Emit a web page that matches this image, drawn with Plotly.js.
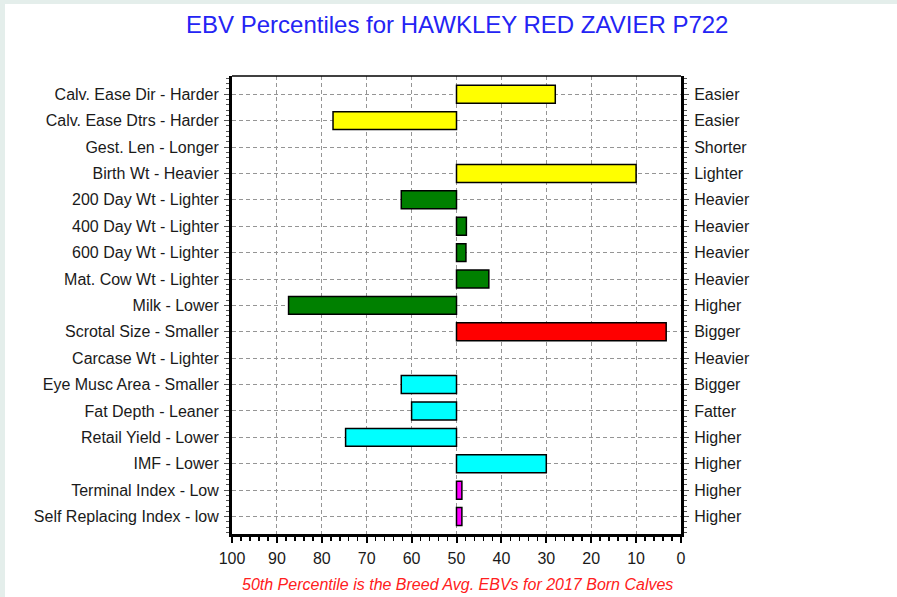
<!DOCTYPE html>
<html>
<head>
<meta charset="utf-8">
<script src="https://cdn.plot.ly/plotly-3.0.1.min.js"></script>
<style>
  html, body { margin: 0; padding: 0; background: #e4eeeb; width: 897px; height: 597px; overflow: hidden; }
  #chart { position: absolute; left: 5px; top: 4px; width: 892px; height: 593px; background: #ffffff; }
</style>
</head>
<body>
<div id="chart"></div>
<script>
// Trait labels (left = low end, right = high end)
var leftLabels = [
  "Calv. Ease Dir - Harder", "Calv. Ease Dtrs - Harder", "Gest. Len - Longer",
  "Birth Wt - Heavier", "200 Day Wt - Lighter", "400 Day Wt - Lighter",
  "600 Day Wt - Lighter", "Mat. Cow Wt - Lighter", "Milk - Lower",
  "Scrotal Size - Smaller", "Carcase Wt - Lighter", "Eye Musc Area - Smaller",
  "Fat Depth - Leaner", "Retail Yield - Lower", "IMF - Lower",
  "Terminal Index - Low", "Self Replacing Index - low"
];
var rightLabels = [
  "Easier", "Easier", "Shorter", "Lighter", "Heavier", "Heavier", "Heavier",
  "Heavier", "Higher", "Bigger", "Heavier", "Bigger", "Fatter", "Higher",
  "Higher", "Higher", "Higher"
];
// Percentile reached by each trait (null = no bar drawn)
var percentiles = [28, 77.5, null, 10, 62.3, 47.8, 47.9, 42.8, 87.4, 3.3, null, 62.3, 60, 74.7, 30, 48.8, 48.8];
var barColors = [
  "#ffff00", "#ffff00", "#ffff00", "#ffff00",
  "#008000", "#008000", "#008000", "#008000", "#008000",
  "#ff0000", "#ff0000",
  "#00ffff", "#00ffff", "#00ffff", "#00ffff",
  "#ff00ff", "#ff00ff"
];
var breedAvg = 50;
var xTicks = [100, 90, 80, 70, 60, 50, 40, 30, 20, 10, 0];

var rows = leftLabels.map(function (_, i) { return i; });
var deltas = percentiles.map(function (p) { return p === null ? null : p - breedAvg; });

var traces = [
  {
    type: "bar",
    orientation: "h",
    y: rows,
    x: deltas,
    base: breedAvg,
    width: 0.68,
    marker: { color: barColors, line: { color: "#000000", width: 1.5 } },
    hoverinfo: "skip",
    showlegend: false
  },
  {
    type: "scatter",
    mode: "markers",
    y: rows,
    x: rows.map(function () { return breedAvg; }),
    yaxis: "y2",
    marker: { opacity: 0 },
    hoverinfo: "skip",
    showlegend: false
  }
];

var labelFont = { family: "Liberation Sans, Arial, sans-serif", size: 16, color: "#1a1a1a" };
var yRange = [16.66, -0.69];
var gridDash = "4px,3px";

var layout = {
  width: 892,
  height: 593,
  margin: { l: 227, r: 216, t: 72, b: 63, pad: 0 },
  paper_bgcolor: "#ffffff",
  plot_bgcolor: "#ffffff",
  title: {
    text: "EBV Percentiles for HAWKLEY RED ZAVIER P722",
    font: { family: "Liberation Sans, Arial, sans-serif", size: 24, color: "#2424f4" },
    x: 0.507, xanchor: "center",
    xref: "container",
    y: 0.9646, yanchor: "middle", yref: "container"
  },
  xaxis: {
    range: [100, 0],
    tickmode: "array",
    tickvals: xTicks,
    ticktext: xTicks.map(String),
    showgrid: true,
    gridcolor: "#959595",
    gridwidth: 1,
    griddash: gridDash,
    zeroline: false,
    showline: true,
    linecolor: "#000000",
    linewidth: 3,
    ticks: "outside",
    ticklen: 6,
    tickwidth: 2,
    tickcolor: "#000000",
    ticklabelstandoff: 2,
    minor: { tickmode: "linear", tick0: 0, dtick: 2, ticks: "outside", ticklen: 4, tickwidth: 1.5, tickcolor: "#000000", showgrid: false },
    tickfont: labelFont,
    fixedrange: true
  },
  yaxis: {
    range: yRange,
    tickmode: "array",
    tickvals: rows,
    ticktext: leftLabels,
    showgrid: true,
    gridcolor: "#959595",
    gridwidth: 1,
    griddash: gridDash,
    zeroline: false,
    showline: true,
    linecolor: "#000000",
    linewidth: 3,
    ticks: "outside",
    ticklen: 5,
    tickwidth: 1,
    tickcolor: "#555555",
    ticklabelstandoff: 2,
    minor: { tickmode: "linear", tick0: 0, dtick: 0.2, ticks: "outside", ticklen: 3, tickwidth: 1, tickcolor: "#555555", showgrid: false },
    tickfont: labelFont,
    fixedrange: true
  },
  yaxis2: {
    overlaying: "y",
    side: "right",
    range: yRange,
    tickmode: "array",
    tickvals: rows,
    ticktext: rightLabels,
    showgrid: false,
    zeroline: false,
    showline: true,
    linecolor: "#000000",
    linewidth: 3,
    ticks: "outside",
    ticklen: 5,
    tickwidth: 1,
    tickcolor: "#555555",
    ticklabelstandoff: 2,
    minor: { tickmode: "linear", tick0: 0, dtick: 0.2, ticks: "outside", ticklen: 3, tickwidth: 1, tickcolor: "#555555", showgrid: false },
    tickfont: labelFont,
    fixedrange: true
  },
  shapes: [
    { type: "line", xref: "paper", yref: "paper", x0: 0, x1: 1, y0: 1, y1: 1, line: { color: "#000000", width: 1.5 } }
  ],
  annotations: [
    {
      text: "<i>50th Percentile is the Breed Avg. EBVs for 2017 Born Calves</i>",
      xref: "paper", yref: "paper",
      x: 0.502, y: -0.111,
      xanchor: "center", yanchor: "middle",
      showarrow: false,
      font: { family: "Liberation Sans, Arial, sans-serif", size: 16, color: "#ff2020" }
    }
  ],
  bargap: 0.32,
  showlegend: false
};

Plotly.newPlot("chart", traces, layout, { displayModeBar: false, staticPlot: true });
</script>
</body>
</html>
